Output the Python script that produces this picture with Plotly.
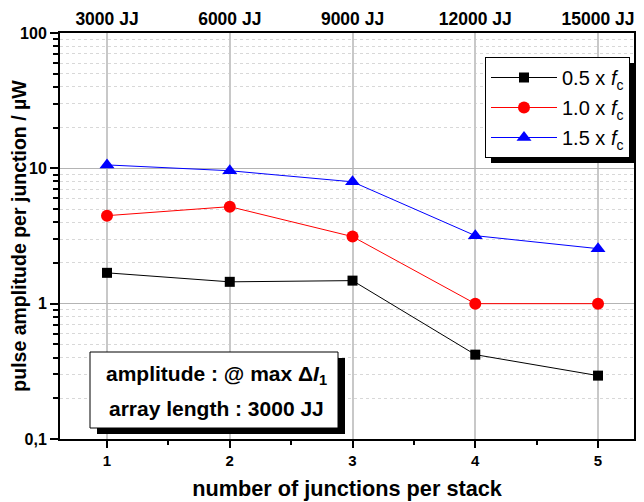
import plotly.graph_objects as go

x_vals = [1, 2, 3, 4, 5]
top_labels = ["3000 JJ", "6000 JJ", "9000 JJ", "12000 JJ", "15000 JJ"]
y_05 = [1.69, 1.45, 1.48, 0.42, 0.294]
y_10 = [4.47, 5.21, 3.13, 1.0, 1.0]
y_15 = [10.6, 9.6, 7.95, 3.18, 2.55]
y_tickvals = [0.1, 1, 10, 100]
y_ticktext = ["0,1", "1", "10", "100"]
y_minor = [k * 10 ** e for e in (-1, 0, 1) for k in range(2, 10)]
info_lines = ["amplitude : @ max Δ<i>I</i><sub>1</sub>", "array length : 3000 JJ"]

FONT = "Liberation Sans, Arial, sans-serif"
OFF = 8  # page body margin
W, H = 644 - OFF, 502 - OFF
L, R, T, B = 60 - OFF, 634 - OFF, 33 - OFF, 439 - OFF
PW, PH = R - L, B - T


def px(xp):
    return (xp - OFF - L) / PW


def py(yp):
    return 1 - (yp - OFF - T) / PH


fig = go.Figure()
fig.add_trace(go.Scatter(x=x_vals, y=y_05, mode="lines+markers",
                         name="0.5 x <i>f</i><sub>c</sub>", legendgroup="a",
                         line=dict(color="black", width=1),
                         marker=dict(symbol="square", size=10, color="black")))
fig.add_trace(go.Scatter(x=x_vals, y=y_10, mode="lines+markers",
                         name="1.0 x <i>f</i><sub>c</sub>", legendgroup="b",
                         line=dict(color="red", width=1),
                         marker=dict(symbol="circle", size=12, color="red")))
fig.add_trace(go.Scatter(x=x_vals, y=y_15, mode="lines+markers",
                         name="1.5 x <i>f</i><sub>c</sub>", legendgroup="c",
                         line=dict(color="blue", width=1),
                         marker=dict(symbol="triangle-up", size=13, color="blue")))
# invisible trace to activate top axis
fig.add_trace(go.Scatter(x=x_vals, y=y_10, xaxis="x2", mode="markers",
                         marker=dict(opacity=0), showlegend=False, hoverinfo="skip"))

xr = [0.617, 5.293]
fig.update_layout(
    width=W, height=H,
    margin=dict(l=L, r=W - R, t=T, b=H - B, autoexpand=False),
    paper_bgcolor="white", plot_bgcolor="white",
    font=dict(family=FONT, color="black"),
    showlegend=True,
    legend=dict(x=px(630), y=py(57), xanchor="right", yanchor="top",
                bgcolor="white", bordercolor="black", borderwidth=1,
                font=dict(size=20, family=FONT), tracegroupgap=1,
                itemwidth=66),
    xaxis=dict(range=xr, tickvals=x_vals, ticks="outside", ticklen=7, tickwidth=2,
               tickcolor="black", automargin=False,
               tickfont=dict(size=15, family=FONT, weight="bold"),
               showline=True, linecolor="black", linewidth=2, mirror=True,
               showgrid=True, gridcolor="#c8c8c8", gridwidth=2, zeroline=False,
               minor=dict(dtick=0.5, ticks="outside", ticklen=4, tickwidth=2,
                          tickcolor="black", showgrid=False),
               title=dict(text="<b>number of junctions per stack</b>",
                          font=dict(size=21.7, family=FONT), standoff=13)),
    xaxis2=dict(range=xr, overlaying="x", side="top", tickvals=x_vals,
                ticktext=top_labels, ticks="", showline=False, showgrid=False,
                zeroline=False, automargin=False, ticklabelstandoff=4,
                tickfont=dict(size=17.5, family=FONT, weight="bold")),
    yaxis=dict(type="log", range=[-1, 2], tickvals=y_tickvals, ticktext=y_ticktext,
               ticks="outside", ticklen=8, tickwidth=2, tickcolor="black",
               automargin=False,
               tickfont=dict(size=16, family=FONT, weight="bold"),
               showline=True, linecolor="black", linewidth=2, mirror=True,
               showgrid=True, gridcolor="#b4b4b4", gridwidth=1, zeroline=False,
               minor=dict(tickvals=y_minor, ticks="outside", ticklen=5, tickwidth=2,
                          tickcolor="black", showgrid=True, gridcolor="#d8d8d8",
                          griddash="dot", gridwidth=1),
               title=dict(text="<b>pulse amplitude per junction / µW</b>",
                          font=dict(size=19.5, family=FONT), standoff=4)),
)

# legend shadow
fig.add_shape(type="rect", xref="paper", yref="paper",
              x0=px(491), x1=px(636), y0=py(163), y1=py(63),
              fillcolor="black", line=dict(width=0), layer="above")

# info box with shadow
bx0, bx1, by0, by1 = 90, 338, 352, 428
fig.add_shape(type="rect", xref="paper", yref="paper",
              x0=px(bx0 + 7), x1=px(bx1 + 7), y0=py(by1 + 6), y1=py(by0 + 6),
              fillcolor="black", line=dict(width=0), layer="above")
fig.add_shape(type="rect", xref="paper", yref="paper",
              x0=px(bx0), x1=px(bx1), y0=py(by1), y1=py(by0),
              fillcolor="white", line=dict(color="black", width=1), layer="above")
for txt, yc in zip(info_lines, [375, 408]):
    fig.add_annotation(xref="paper", yref="paper",
                       x=px((bx0 + bx1) / 2 + 2), y=py(yc),
                       xanchor="center", yanchor="middle",
                       text="<b>" + txt + "</b>",
                       showarrow=False, align="center",
                       font=dict(size=21, family=FONT, color="black"))

fig.write_html("out.html")
